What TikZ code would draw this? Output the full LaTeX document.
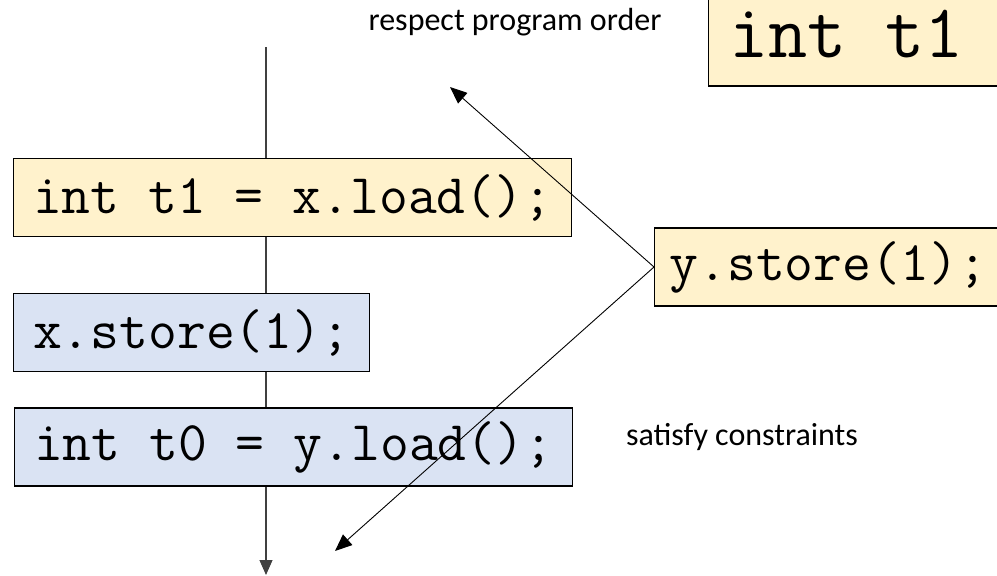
\documentclass[tikz,border=0pt]{standalone}
\usepackage{fontspec}
\setmainfont{Carlito}
\usetikzlibrary{positioning,arrows.meta}
\definecolor{codeyellow}{HTML}{FFF2CC}
\definecolor{codeblue}{HTML}{DAE3F3}

\begin{document}
\begin{tikzpicture}[
  x=1pt, y=-1pt,
  node distance=56pt,
  code/.style={rectangle, draw, line width=1.2pt, minimum height=78pt, inner xsep=19.5pt, font=\fontsize{56}{60}\selectfont\ttfamily},
  mine/.style={code, fill=codeyellow},
  theirs/.style={code, fill=codeblue},
  note/.style={font=\fontsize{32}{36}\selectfont},
  flow/.style={draw=black!75, line width=1.2pt, -{Triangle[length=15pt,width=13pt]}},
  order/.style={line width=0.9pt, -{Triangle[length=17pt,width=14pt]}}
]
  \useasboundingbox (0,0) rectangle (997,576);
  \clip (0,0) rectangle (997,576);

  % program order of this thread
  \coordinate (start) at (266,47);
  \coordinate (finish) at (266,575);
  \draw[flow] (start) -- (finish);

  \node[mine, anchor=north west] (load1) at (13,158) {int t1 = x.load();};
  \node[theirs, below=of load1.south west, anchor=north west] (store) {x.store(1);};
  \node[theirs, below=35pt of store.south west, xshift=1pt, anchor=north west] (load0) {int t0 = y.load();};

  \node[mine, anchor=west, inner xsep=15pt] (ystore) at (654,267) {y.store(1);};

  % big box runs off the page
  \node[mine, anchor=west, minimum height=106pt, minimum width=400pt] (bigbox) at (708,33) {};
  \node[anchor=west, inner sep=0pt, font=\fontsize{76}{80}\selectfont\ttfamily] (big) at ([xshift=21pt, yshift=-1pt]bigbox.west) {int t1};

  \node[note] (respect) at (515,22) {respect program order};
  \node[note] (satisfy) at (742,437) {satisfy constraints};

  \coordinate (up) at (450,87);
  \coordinate (down) at (335,551);
  \draw[order] (ystore.west) -- (up);
  \draw[order] (ystore.west) -- (down);
\end{tikzpicture}
\end{document}
